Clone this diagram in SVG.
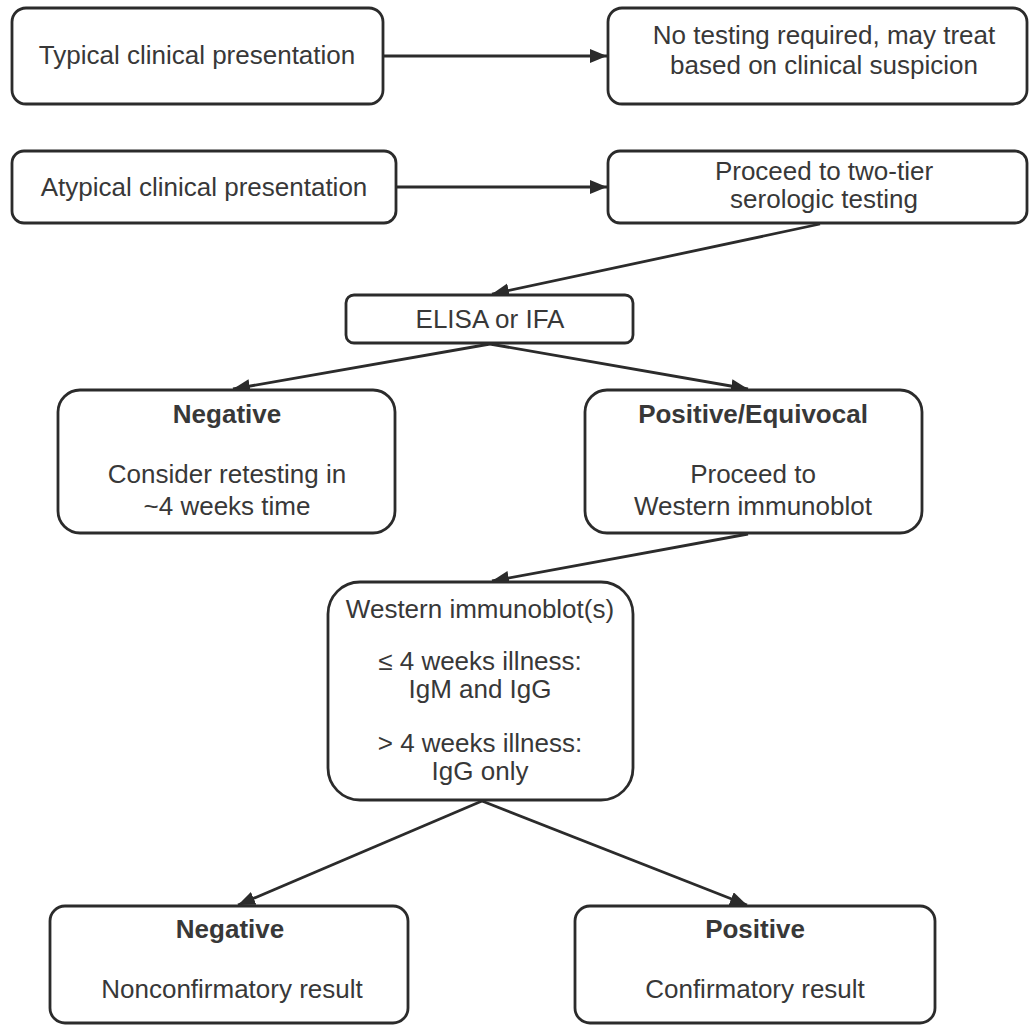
<svg xmlns="http://www.w3.org/2000/svg" width="1029" height="1026" viewBox="0 0 1029 1026">
<style>
.box{fill:#fff;stroke:#2b2b2b;stroke-width:2.8}
.t{font-family:"Liberation Sans",Arial,Helvetica,sans-serif;font-size:26px;fill:#383838;text-anchor:middle}
.b{font-weight:bold}
.c{fill:none;stroke:#2b2b2b;stroke-width:2.8}
</style>
<defs>
<marker id="ah" markerUnits="userSpaceOnUse" markerWidth="20" markerHeight="16" refX="17" refY="7" orient="auto">
<path d="M0,0 L17,7 L0,14 z" fill="#2b2b2b"/>
</marker>
</defs>
<rect width="1029" height="1026" fill="#fff"/>
<g id="connectors">
<line class="c" x1="383" y1="56" x2="607" y2="56" marker-end="url(#ah)"/>
<line class="c" x1="396" y1="187" x2="607" y2="187" marker-end="url(#ah)"/>
<line class="c" x1="820" y1="224" x2="492" y2="294" marker-end="url(#ah)"/>
<line class="c" x1="490" y1="344" x2="233" y2="389" marker-end="url(#ah)"/>
<line class="c" x1="490" y1="344" x2="748" y2="389" marker-end="url(#ah)"/>
<line class="c" x1="748" y1="534" x2="492" y2="581" marker-end="url(#ah)"/>
<line class="c" x1="482" y1="801" x2="238" y2="905" marker-end="url(#ah)"/>
<line class="c" x1="482" y1="801" x2="747" y2="905" marker-end="url(#ah)"/>
</g>
<g id="typical">
<rect class="box" x="12" y="8" width="371" height="96" rx="14"/>
<text class="t" x="197" y="64">Typical clinical presentation</text>
</g>
<g id="no-testing">
<rect class="box" x="608" y="8" width="419" height="96" rx="14"/>
<text class="t" x="824" y="44">No testing required, may treat</text>
<text class="t" x="824" y="74">based on clinical suspicion</text>
</g>
<g id="atypical">
<rect class="box" x="12" y="151" width="384" height="72" rx="12"/>
<text class="t" x="204" y="196">Atypical clinical presentation</text>
</g>
<g id="two-tier">
<rect class="box" x="608" y="151" width="419" height="72" rx="12"/>
<text class="t" x="824" y="180">Proceed to two-tier</text>
<text class="t" x="824" y="208">serologic testing</text>
</g>
<g id="elisa">
<rect class="box" x="346" y="295" width="287" height="48" rx="8"/>
<text class="t" x="490" y="328">ELISA or IFA</text>
</g>
<g id="negative1">
<rect class="box" x="58" y="390" width="337" height="143" rx="22"/>
<text class="t b" x="227" y="423">Negative</text>
<text class="t" x="227" y="483">Consider retesting in</text>
<text class="t" x="227" y="515">~4 weeks time</text>
</g>
<g id="positive1">
<rect class="box" x="585" y="390" width="337" height="143" rx="22"/>
<text class="t b" x="753" y="423">Positive/Equivocal</text>
<text class="t" x="753" y="483">Proceed to</text>
<text class="t" x="753" y="515">Western immunoblot</text>
</g>
<g id="western">
<rect class="box" x="328" y="582" width="305" height="218" rx="32"/>
<text class="t" x="480" y="618">Western immunoblot(s)</text>
<text class="t" x="480" y="670">≤ 4 weeks illness:</text>
<text class="t" x="480" y="698">IgM and IgG</text>
<text class="t" x="480" y="752">&gt; 4 weeks illness:</text>
<text class="t" x="480" y="780">IgG only</text>
</g>
<g id="negative2">
<rect class="box" x="50" y="906" width="358" height="117" rx="15"/>
<text class="t b" x="230" y="938">Negative</text>
<text class="t" x="232" y="998">Nonconfirmatory result</text>
</g>
<g id="positive2">
<rect class="box" x="575" y="906" width="360" height="117" rx="15"/>
<text class="t b" x="755" y="938">Positive</text>
<text class="t" x="755" y="998">Confirmatory result</text>
</g>
</svg>
